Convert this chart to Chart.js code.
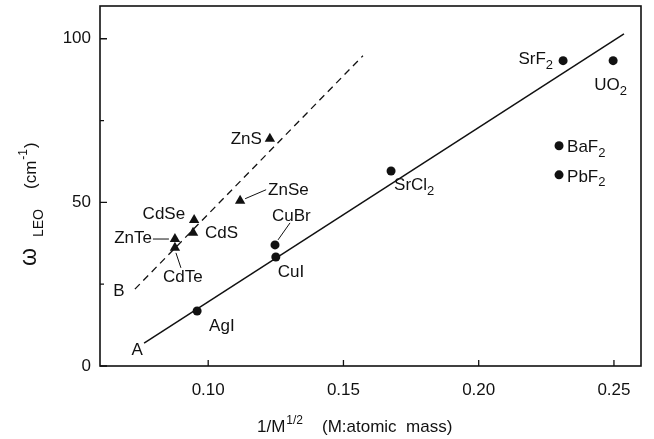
<!DOCTYPE html>
<html>
<head>
<meta charset="utf-8">
<script src="https://cdn.jsdelivr.net/npm/chart.js@4/dist/chart.umd.min.js"></script>
<style>
  html, body { margin: 0; padding: 0; background: #fff; }
  #wrap { width: 654px; height: 439px; }
</style>
</head>
<body>
<div id="wrap"><canvas id="chart"></canvas></div>
<script>
// data
const circleNames = ['AgI', 'CuI', 'CuBr', 'SrCl2', 'SrF2', 'UO2', 'BaF2', 'PbF2'];
const circleX = [0.0959, 0.1250, 0.1247, 0.1676, 0.2312, 0.2497, 0.2297, 0.2297];
const circleY = [16.8, 33.3, 37.0, 59.6, 93.3, 93.3, 67.3, 58.4];

const triNames = ['ZnS', 'ZnSe', 'CdSe', 'CdS', 'ZnTe', 'CdTe'];
const triX = [0.1228, 0.1118, 0.0948, 0.0944, 0.0877, 0.0877];
const triY = [69.4, 50.5, 44.6, 40.7, 38.8, 36.1];

const lineAX = [0.0763, 0.2537];
const lineAY = [7.0, 101.5];
const lineBX = [0.0729, 0.1572];
const lineBY = [23.5, 94.8];

const xTicks = [0.10, 0.15, 0.20, 0.25];
const yTicks = [0, 50, 100];
const yMinor = [25, 75];

// label layout (pixel offsets from the mark), not data
const labelPos = {
    AgI:   { dx: 12,  dy: 15,  align: 'left' },
    CuI:   { dx: 2,   dy: 15,  align: 'left' },
    CuBr:  { dx: -3,  dy: -29, align: 'left',  lead: [3, -5, 15, -22] },
    SrCl2: { dx: 3,   dy: 14,  align: 'left' },
    SrF2:  { dx: -10, dy: -1,  align: 'right' },
    UO2:   { dx: -19, dy: 25,  align: 'left' },
    BaF2:  { dx: 8,   dy: 2,   align: 'left' },
    PbF2:  { dx: 8,   dy: 2,   align: 'left' },
    ZnS:   { dx: -8,  dy: 0,   align: 'right' },
    ZnSe:  { dx: 28,  dy: -10, align: 'left',  lead: [5, -2, 26, -11] },
    CdSe:  { dx: -9,  dy: -6,  align: 'right' },
    CdS:   { dx: 12,  dy: 1,   align: 'left' },
    ZnTe:  { dx: -23, dy: -1,  align: 'right', lead: [-22, 0, -6, 0] },
    CdTe:  { dx: -12, dy: 29,  align: 'left',  lead: [1, 5, 6, 20] }
};

const FONT = '"Liberation Sans", Arial, Helvetica, sans-serif';
const ink = '#111';

function toPoints(xs, ys) {
    return xs.map((x, i) => ({ x: x, y: ys[i] }));
}

// chemical formula: digits become subscripts
function drawFormula(ctx, text, x, y, align) {
    const parts = text.match(/[A-Za-z]+|\d+/g);
    const main = '17px ' + FONT, sub = '13px ' + FONT;
    let total = 0;
    parts.forEach(p => {
        ctx.font = /\d/.test(p) ? sub : main;
        total += ctx.measureText(p).width;
    });
    let cx = align === 'right' ? x - total : x;
    ctx.textAlign = 'left';
    ctx.textBaseline = 'middle';
    parts.forEach(p => {
        const isSub = /\d/.test(p);
        ctx.font = isSub ? sub : main;
        ctx.fillText(p, cx, isSub ? y + 6 : y);
        cx += ctx.measureText(p).width;
    });
}

const annotate = {
    id: 'annotate',
    afterDraw(chart) {
        const ctx = chart.ctx;
        const xs = chart.scales.x, ys = chart.scales.y;
        const a = chart.chartArea;
        ctx.save();
        ctx.fillStyle = ink;
        ctx.strokeStyle = ink;

        // frame
        ctx.lineWidth = 1.6;
        ctx.strokeRect(a.left, a.top, a.right - a.left, a.bottom - a.top);

        // inward ticks
        ctx.lineWidth = 1.3;
        ctx.beginPath();
        xTicks.forEach(v => {
            const px = xs.getPixelForValue(v);
            ctx.moveTo(px, a.bottom); ctx.lineTo(px, a.bottom - 6);
        });
        yTicks.forEach(v => {
            const py = ys.getPixelForValue(v);
            ctx.moveTo(a.left, py); ctx.lineTo(a.left + 7, py);
        });
        yMinor.forEach(v => {
            const py = ys.getPixelForValue(v);
            ctx.moveTo(a.left, py); ctx.lineTo(a.left + 4, py);
        });
        ctx.stroke();

        // point labels and leader lines
        const drawSet = (names, xv, yv) => {
            names.forEach((n, i) => {
                const px = xs.getPixelForValue(xv[i]);
                const py = ys.getPixelForValue(yv[i]);
                const L = labelPos[n];
                if (L.lead) {
                    ctx.lineWidth = 1;
                    ctx.beginPath();
                    ctx.moveTo(px + L.lead[0], py + L.lead[1]);
                    ctx.lineTo(px + L.lead[2], py + L.lead[3]);
                    ctx.stroke();
                }
                drawFormula(ctx, n, px + L.dx, py + L.dy, L.align);
            });
        };
        drawSet(circleNames, circleX, circleY);
        drawSet(triNames, triX, triY);

        // line names
        ctx.font = '17px ' + FONT;
        ctx.textAlign = 'center';
        ctx.textBaseline = 'middle';
        ctx.fillText('A', xs.getPixelForValue(lineAX[0]) - 7, ys.getPixelForValue(lineAY[0]) + 7);
        ctx.fillText('B', xs.getPixelForValue(lineBX[0]) - 16, ys.getPixelForValue(lineBY[0]) + 2);

        // x title
        ctx.textAlign = 'left';
        ctx.textBaseline = 'alphabetic';
        ctx.font = '17px ' + FONT;
        ctx.fillText('1/M', 257, 432);
        let w = ctx.measureText('1/M').width;
        ctx.font = '12px ' + FONT;
        ctx.fillText('1/2', 257 + w + 1, 424);
        ctx.font = '17px ' + FONT;
        ctx.fillText('(M:atomic  mass)', 322, 432);

        // y title, rotated
        ctx.translate(36, 266);
        ctx.rotate(-Math.PI / 2);
        ctx.font = '23px ' + FONT;
        ctx.fillText('\u03c9', 0, 0);
        ctx.font = '14px ' + FONT;
        ctx.fillText('LEO', 29, 7);
        ctx.font = '17px ' + FONT;
        ctx.fillText('(cm', 77, 0);
        let u = 77 + ctx.measureText('(cm').width;
        ctx.font = '12px ' + FONT;
        ctx.fillText('-1', u + 1, -9);
        u += ctx.measureText('-1').width + 2;
        ctx.font = '17px ' + FONT;
        ctx.fillText(')', u, 0);

        ctx.restore();
    }
};

new Chart(document.getElementById('chart'), {
    type: 'scatter',
    data: {
        datasets: [
            {
                data: toPoints(circleX, circleY),
                pointStyle: 'circle',
                pointRadius: 4.5,
                backgroundColor: ink,
                borderColor: ink,
                borderWidth: 0
            },
            {
                data: toPoints(triX, triY),
                pointStyle: 'triangle',
                pointRadius: 6,
                backgroundColor: ink,
                borderColor: ink,
                borderWidth: 0
            },
            {
                data: toPoints(lineAX, lineAY),
                showLine: true,
                pointRadius: 0,
                borderColor: ink,
                borderWidth: 1.5
            },
            {
                data: toPoints(lineBX, lineBY),
                showLine: true,
                pointRadius: 0,
                borderColor: ink,
                borderWidth: 1.3,
                borderDash: [7, 5]
            }
        ]
    },
    options: {
        responsive: true,
        maintainAspectRatio: false,
        animation: false,
        layout: { padding: { left: 0, top: 6, right: 13, bottom: 0 } },
        plugins: {
            legend: { display: false },
            tooltip: { enabled: false }
        },
        scales: {
            x: {
                type: 'linear',
                min: 0.06,
                max: 0.26,
                afterBuildTicks: s => { s.ticks = xTicks.map(v => ({ value: v })); },
                afterFit: s => { s.height = 73; s.paddingLeft = 0; s.paddingRight = 0; },
                grid: { display: false, drawTicks: false },
                border: { display: false },
                ticks: {
                    padding: 14,
                    color: ink,
                    font: { family: FONT, size: 17 },
                    callback: v => v.toFixed(2)
                }
            },
            y: {
                type: 'linear',
                min: 0,
                max: 110,
                afterBuildTicks: s => { s.ticks = yTicks.map(v => ({ value: v })); },
                afterFit: s => { s.width = 100; s.paddingTop = 0; s.paddingBottom = 0; },
                grid: { display: false, drawTicks: false },
                border: { display: false },
                ticks: {
                    padding: 9,
                    color: ink,
                    font: { family: FONT, size: 17 },
                    callback: v => String(v)
                }
            }
        }
    },
    plugins: [annotate]
});
</script>
</body>
</html>
